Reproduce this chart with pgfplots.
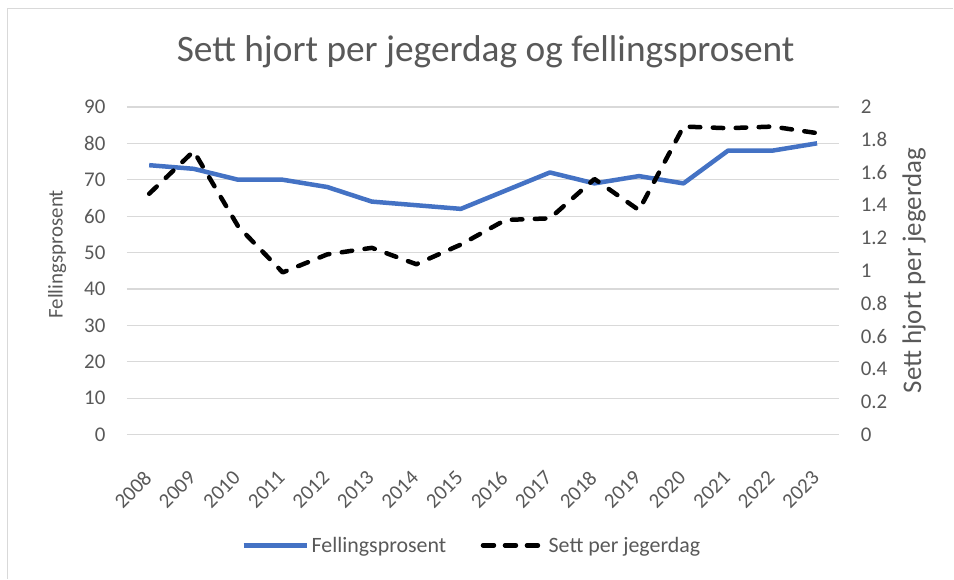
\documentclass[border=0pt]{standalone}
\usepackage{fontspec}
\setmainfont{Carlito}
\usepackage{pgfplots}
\pgfplotsset{compat=1.18}
\definecolor{fblue}{HTML}{4472C4}
\definecolor{tgray}{HTML}{595959}
\definecolor{gridc}{HTML}{D9D9D9}
\pgfplotstableread{
x fp sett
0 74 1.47
1 73 1.73
2 70 1.27
3 70 0.99
4 68 1.10
5 64 1.14
6 63 1.04
7 62 1.16
8 67 1.31
9 72 1.32
10 69 1.56
11 71 1.37
12 69 1.88
13 78 1.87
14 78 1.88
15 80 1.84
}\datatable
\begin{document}
\begin{tikzpicture}[x=1bp,y=1bp]
\fill[white] (0,0) rectangle (954,579);
\draw[gridc, line width=1.5bp] (7.5,0) -- (7.5,570.5) -- (954,570.5);
\node[text=tgray, font=\fontsize{37.5}{37.5}\selectfont] at (486,527) {Sett hjort per jegerdag og fellingsprosent};
\begin{axis}[
  at={(127bp,144bp)}, anchor=south west, scale only axis,
  width=713bp, height=328bp,
  xmin=-0.5, xmax=15.5, ymin=0, ymax=90,
  xtick={0,...,15},
  xticklabels={2008,2009,2010,2011,2012,2013,2014,2015,2016,2017,2018,2019,2020,2021,2022,2023},
  ytick={0,10,...,90},
  axis line style={draw=none},
  major tick length=0pt,
  ymajorgrids, grid style={gridc, line width=1.3bp},
  tick label style={font=\fontsize{21}{21}\selectfont, text=tgray},
  /pgf/number format/assume math mode=true,
  xticklabel style={rotate=45, anchor=north east, inner sep=1bp, xshift=-28bp, yshift=-19bp},
  yticklabel style={xshift=-18bp},
  ylabel={Fellingsprosent},
  ylabel style={at={(axis description cs:-0.098,0.55)}, anchor=center, font=\fontsize{21}{21}\selectfont, text=tgray},
  legend style={at={(axis description cs:0.484,-0.338)}, anchor=center, draw=none, fill=none,
    legend columns=2, font=\fontsize{22}{22}\selectfont, text=tgray,
    /tikz/every even column/.append style={column sep=30bp},
    nodes={inner sep=2bp}},
  legend image code/.code={\draw[#1] (0bp,0bp) -- (64bp,0bp);},
]
\addplot[fblue, line width=4.5bp, line join=round] table[x=x, y=fp] {\datatable};
\addlegendentry{Fellingsprosent}
\addlegendimage{black, line width=4.5bp, line cap=round, dash pattern=on 11bp off 11bp, dash phase=-2.5bp}
\addlegendentry{Sett per jegerdag}
\end{axis}
\begin{axis}[
  at={(127bp,144bp)}, anchor=south west, scale only axis,
  width=713bp, height=328bp,
  xmin=-0.5, xmax=15.5, ymin=0, ymax=2,
  axis x line=none,
  axis y line*=right,
  axis line style={draw=none},
  major tick length=0pt,
  ytick={0,0.2,0.4,0.6,0.8,1,1.2,1.4,1.6,1.8,2},
  yticklabels={0,0.2,0.4,0.6,0.8,1,1.2,1.4,1.6,1.8,2},
  tick label style={font=\fontsize{21}{21}\selectfont, text=tgray},
  yticklabel style={anchor=west, xshift=18bp},
  ylabel={Sett hjort per jegerdag},
  ylabel style={at={(axis description cs:1.105,0.5)}, anchor=center, font=\fontsize{27}{27}\selectfont, text=tgray},
]
\addplot[black, line width=4.5bp, line cap=round, line join=round, dash pattern=on 10.5bp off 12.5bp] table[x=x, y=sett] {\datatable};
\end{axis}
\end{tikzpicture}
\end{document}
